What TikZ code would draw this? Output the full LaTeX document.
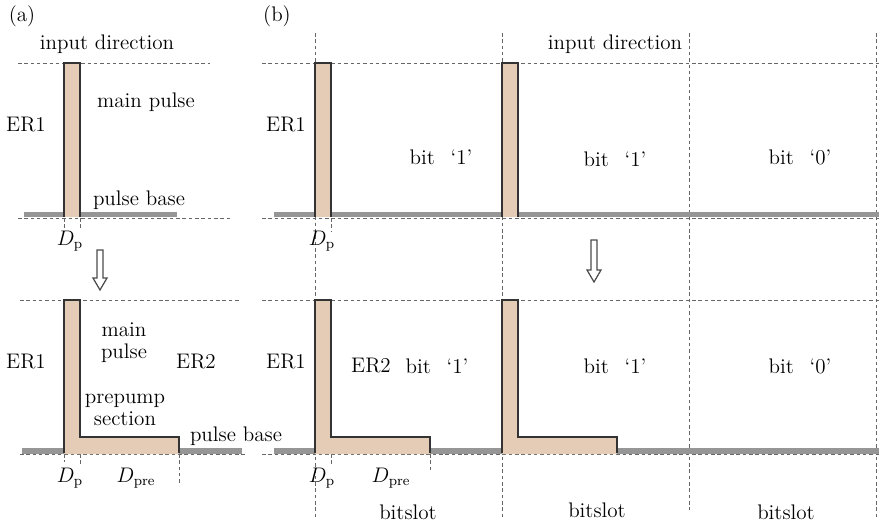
\documentclass[tikz,border=0pt]{standalone}
\usepackage{tikz}
\usetikzlibrary{positioning}
\definecolor{pulsetan}{RGB}{228,204,182}
\definecolor{basegray}{RGB}{150,150,150}
\tikzset{
  guide/.style={draw=black!60,dash pattern=on 2pt off 1.6pt,line width=0.5pt},
  pbase/.style={draw=basegray,line width=3.2pt},
  pulse/.style={draw=black!80,line width=1.1pt,line join=miter},
  lab/.style={inner sep=1pt,align=center},
  hollow/.style={draw=black!70,fill=white,line width=0.7pt}
}
\newcommand\bitlab[1]{bit\hspace{0.75em}`#1'}
\begin{document}
\begin{tikzpicture}[x=0.02cm,y=-0.02cm,font=\fontsize{12}{12.5}\selectfont]
\useasboundingbox (0,0) rectangle (879,524);
% dashed guides
\draw[guide] (18,63) -- (210,63);
\draw[guide] (18,218) -- (232,218);
\draw[guide] (20,300) -- (240,300);
\draw[guide] (20,454) -- (245,454);
\foreach \y in {63,218,300,454}{
  \draw[guide] (262,\y) -- (879,\y);
}
\foreach \x/\t/\b in {315/33/520,502/33/520,689/33/510,876/33/520}{
  \draw[guide] (\x,\t) -- (\x,\b);
}
% ticks under the pulses
\foreach \x/\b in {64/230,80/230,331/232,64/462,80/465,179/485,331/465,430/472}{
  \pgfmathsetmacro\yy{\b>300 ? 454 : 218}
  \draw[guide] (\x,\yy) -- (\x,\b);
}
% pulse base
\draw[pbase] (24,214.5) -- (177,214.5);
\draw[pbase] (22,451) -- (242,451);
\draw[pbase] (274,214.5) -- (879,214.5);
\draw[pbase] (274,451) -- (879,451);
% main pulses
\foreach \x in {64,315,502}{
  \fill[pulsetan] (\x,63) rectangle (\x+16,217);
  \draw[pulse] (\x,217) -- (\x,63) -- (\x+16,63) -- (\x+16,217);
}
% main pulses with prepump section
\foreach \x in {64,315,502}{
  \fill[pulsetan] (\x,454) -- (\x,300) -- (\x+16,300) -- (\x+16,437) -- (\x+115,437) -- (\x+115,454) -- cycle;
  \draw[pulse] (\x,453) -- (\x,300) -- (\x+16,300) -- (\x+16,437) -- (\x+115,437) -- (\x+115,453);
}
% hollow arrows
\draw[hollow] (97,250) -- (103,250) -- (103,278) -- (107,278) -- (100,290) -- (93,278) -- (97,278) -- cycle;
\draw[hollow] (591,240) -- (597,240) -- (597,270) -- (601,270) -- (594,282) -- (587,270) -- (591,270) -- cycle;
% labels (a)
\node[lab] (taga) at (22,16) {(a)};
\node[lab] (ina) at (107,44) {input direction};
\node[lab] (er1a) at (26,125) {ER1};
\node[lab] (mpa) at (146,102) {main pulse};
\node[lab] (pba) at (139,200) {pulse base};
\node[lab] (dpa) at (70,241) {$D_{\mathrm{p}}$};
\node[lab] (er1c) at (26,362) {ER1};
\node[lab] (mpc) at (124,343) {main\\pulse};
\node[lab] (er2c) at (196,362) {ER2};
\node[lab] (ppc) at (125,410) {prepump\\section};
\node[lab] (pbc) at (236,436) {pulse base};
\node[lab] (dpc) at (70,478) {$D_{\mathrm{p}}$};
\node[lab] (dprec) at (136,478) {$D_{\mathrm{pre}}$};
% labels (b)
\node[lab] (tagb) at (277,16) {(b)};
\node[lab] (inb) at (615,44) {input direction};
\node[lab] (er1b) at (286,125) {ER1};
\node[lab] (b1) at (441,157) {\bitlab{1}};
\node[lab] (b2) at (615,159) {\bitlab{1}};
\node[lab] (b3) at (800,157) {\bitlab{0}};
\node[lab] (dpb) at (322,241) {$D_{\mathrm{p}}$};
\node[lab] (er1d) at (286,362) {ER1};
\node[lab] (er2d) at (371,366) {ER2};
\node[lab] (b4) at (437,366) {\bitlab{1}};
\node[lab] (b5) at (615,366) {\bitlab{1}};
\node[lab] (b6) at (800,366) {\bitlab{0}};
\node[lab] (dpd) at (322,478) {$D_{\mathrm{p}}$};
\node[lab] (dpred) at (391,478) {$D_{\mathrm{pre}}$};
\node[lab] (s1) at (408,512) {bitslot};
\node[lab] (s2) at (597,510) {bitslot};
\node[lab] (s3) at (786,512) {bitslot};
\end{tikzpicture}
\end{document}
